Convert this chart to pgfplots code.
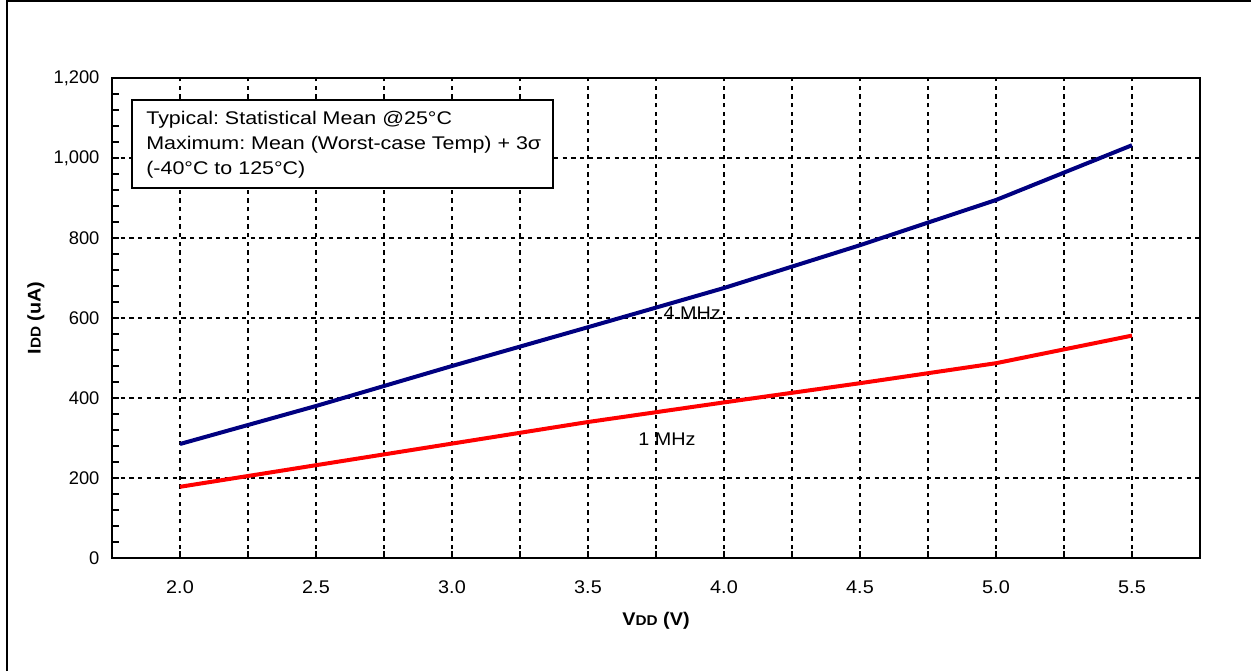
\documentclass[border=0pt]{standalone}
\usepackage{pgfplots}
\pgfplotsset{compat=1.18}
\usepackage{fontspec}
\setmainfont{Liberation Sans}
\newfontfamily\boxfont{Liberation Sans}[FakeStretch=1.17]
\newfontfamily\lblfont{Liberation Sans}[FakeStretch=1.08]
\frenchspacing
\definecolor{navyline}{RGB}{0,0,128}
\begin{document}
\begin{tikzpicture}[x=0.6pt,y=0.6pt]
\useasboundingbox (0,0) rectangle (1251,671);
\draw[line width=1.2pt] (7,0) -- (7,670) -- (1251,670);
\coordinate (axisorigin) at (112,113);
\begin{axis}[
  at={(axisorigin)}, anchor=south west,
  width=652.8pt, height=288pt, scale only axis,
  xmin=-0.5, xmax=7.5, ymin=0, ymax=1200,
  xtick={0,1,...,7},
  xticklabels={2.0,2.5,3.0,3.5,4.0,4.5,5.0,5.5},
  minor xtick={0.5,1.5,...,6.5},
  ytick={0,200,...,1200},
  minor y tick num=4,
  xmajorgrids=true, xminorgrids=true, ymajorgrids=true, yminorgrids=false,
  major grid style={black, line width=1.1pt, dash pattern=on 2.6pt off 2.6pt},
  minor grid style={black, line width=1.1pt, dash pattern=on 2.6pt off 2.6pt},
  tick align=inside, xtick pos=bottom, ytick pos=left,
  major tick length=4pt, minor tick length=4pt,
  tick style={black, line width=1pt},
  axis line style={line width=1.3pt},
  /pgf/number format/assume math mode=true,
  /pgf/number format/1000 sep={,},
  ticklabel style={font=\lblfont\fontsize{11}{13}\selectfont},
  xticklabel style={yshift=-10pt},
  yticklabel style={xshift=-4pt, font=\fontsize{11}{13}\selectfont},
  xlabel={\bfseries V{\fontsize{8.5}{10}\selectfont DD} (V)},
  xlabel style={at={(axis description cs:0.5,0)}, anchor=center, yshift=-37.8pt, font=\lblfont\fontsize{11}{13}\selectfont},
  ylabel={\bfseries I{\fontsize{8.5}{10}\selectfont DD} (uA)},
  ylabel style={at={(axis description cs:-0.06985,0.5)}, anchor=center, font=\lblfont\fontsize{11}{13}\selectfont},
  clip=false,
]
\addplot[navyline, line width=2.4pt] coordinates {
 (0,285) (1,380) (2,480) (3,577) (4,675) (5,782) (6,895) (7,1032)};
\addplot[red, line width=2.4pt] coordinates {
 (0,178) (1,232) (2,286) (3,340) (4,389) (5,437) (6,487) (7,556)};
\node[font=\lblfont\fontsize{11}{13}\selectfont, inner sep=0] at (axis cs:3.767,613) {4 MHz};
\node[font=\lblfont\fontsize{11}{13}\selectfont, inner sep=0] at (axis cs:3.58,297) {1 MHz};
\end{axis}
\draw[line width=1.1pt, fill=white] (132,483) rectangle (553,571);
\begin{scope}[every node/.style={anchor=base west, inner sep=0, font=\boxfont\fontsize{11}{13}\selectfont}]
\node at (146,546.7) {Typical: Statistical Mean @25°C};
\node at (146,521) {Maximum: Mean (Worst-case Temp) + 3σ};
\node at (146,496) {(-40°C to 125°C)};
\end{scope}
\end{tikzpicture}
\end{document}
